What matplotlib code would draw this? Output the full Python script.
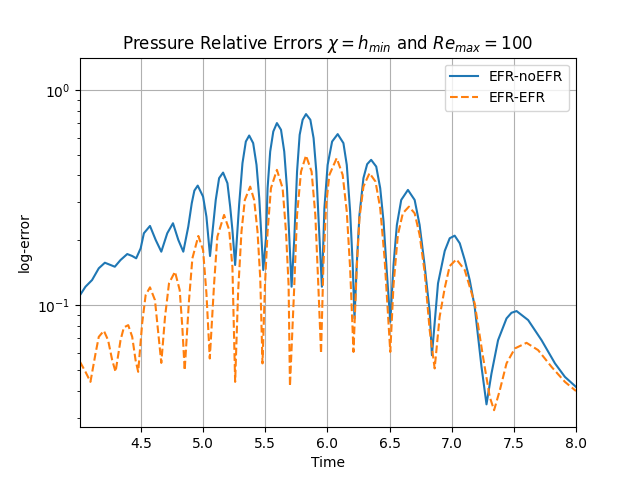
import numpy as np
import matplotlib
matplotlib.use("Agg")
import matplotlib.pyplot as plt

# values (peaks, troughs and points along each arch)
t_noefr = [4.010, 4.054, 4.107, 4.161, 4.210, 4.256, 4.290, 4.336, 4.390, 4.430,
           4.462, 4.498, 4.524, 4.573, 4.619, 4.664, 4.712, 4.758, 4.801, 4.841,
           4.881, 4.909, 4.930, 4.957, 5.000, 5.027, 5.056, 5.102, 5.129, 5.161,
           5.196, 5.218, 5.236, 5.258, 5.290, 5.317, 5.344, 5.371, 5.403, 5.430,
           5.452, 5.470, 5.484, 5.506, 5.519, 5.540, 5.565, 5.594, 5.627, 5.653,
           5.675, 5.694, 5.712, 5.734, 5.756, 5.777, 5.801, 5.828, 5.863, 5.889,
           5.911, 5.930, 5.956, 5.976, 6.002, 6.038, 6.083, 6.129, 6.156, 6.183,
           6.204, 6.218, 6.236, 6.258, 6.290, 6.320, 6.352, 6.393, 6.425, 6.452,
           6.478, 6.506, 6.532, 6.559, 6.594, 6.648, 6.702, 6.742, 6.782, 6.823,
           6.841, 6.890, 6.944, 6.984, 7.024, 7.065, 7.105, 7.145, 7.185, 7.240,
           7.280, 7.320, 7.373, 7.441, 7.481, 7.522, 7.615, 7.723, 7.831, 7.911,
           8.000]
err_noefr = [0.1112, 0.1217, 0.1307, 0.1482, 0.1573, 0.1535, 0.1507, 0.1619, 0.1726, 0.1690,
             0.1649, 0.1835, 0.2156, 0.2331, 0.2006, 0.1770, 0.2156, 0.2399, 0.2006, 0.1770,
             0.2313, 0.2972, 0.3400, 0.3588, 0.3190, 0.2575, 0.1690, 0.3078, 0.3885, 0.4124,
             0.3681, 0.2865, 0.2233, 0.1535, 0.2918, 0.4560, 0.5747, 0.6129, 0.5651, 0.4477,
             0.3135, 0.2043, 0.1455, 0.2043, 0.3490, 0.5164, 0.6398, 0.7001, 0.6516, 0.5164,
             0.3490, 0.2043, 0.1217, 0.2043, 0.4169, 0.6175, 0.7253, 0.7707, 0.7253, 0.5962,
             0.4169, 0.2440, 0.1217, 0.2817, 0.4477, 0.5747, 0.6222, 0.5651, 0.4477, 0.2716,
             0.1535, 0.0867, 0.1535, 0.2622, 0.3885, 0.4512, 0.4726, 0.4397, 0.3490, 0.2440,
             0.1429, 0.0836, 0.1535, 0.2355, 0.3078, 0.3426, 0.3078, 0.2355, 0.1535, 0.0931,
             0.0585, 0.1262, 0.1784, 0.2043, 0.2101, 0.1936, 0.1619, 0.1307, 0.0982, 0.0516,
             0.0346, 0.0481, 0.0687, 0.0867, 0.0921, 0.0938, 0.0852, 0.0687, 0.0536, 0.0464,
             0.0417]

t_efr = [4.010, 4.054, 4.094, 4.135, 4.161, 4.202, 4.236, 4.269, 4.296, 4.336,
         4.363, 4.398, 4.430, 4.457, 4.478, 4.510, 4.538, 4.573, 4.613, 4.640,
         4.664, 4.694, 4.726, 4.774, 4.812, 4.833, 4.852, 4.887, 4.914, 4.962,
         5.000, 5.027, 5.054, 5.089, 5.115, 5.169, 5.210, 5.236, 5.258, 5.282,
         5.309, 5.336, 5.379, 5.411, 5.438, 5.460, 5.478, 5.498, 5.519, 5.546,
         5.594, 5.640, 5.667, 5.688, 5.699, 5.734, 5.756, 5.788, 5.828, 5.873,
         5.903, 5.927, 5.949, 5.968, 5.990, 6.016, 6.075, 6.123, 6.156, 6.183,
         6.210, 6.236, 6.258, 6.290, 6.339, 6.387, 6.425, 6.460, 6.506, 6.532,
         6.567, 6.607, 6.656, 6.702, 6.742, 6.782, 6.823, 6.863, 6.903, 6.944,
         6.984, 7.038, 7.105, 7.185, 7.252, 7.306, 7.341, 7.387, 7.441, 7.508,
         7.602, 7.695, 7.804, 7.911, 8.000]
err_efr = [0.0545, 0.0490, 0.0440, 0.0596, 0.0712, 0.0760, 0.0687, 0.0555, 0.0490, 0.0687,
           0.0788, 0.0807, 0.0712, 0.0555, 0.0490, 0.0822, 0.1113, 0.1209, 0.1055, 0.0738,
           0.0539, 0.0882, 0.1262, 0.1429, 0.1174, 0.0793, 0.0498, 0.1055, 0.1649, 0.2094,
           0.1803, 0.1133, 0.0565, 0.1262, 0.2078, 0.2622, 0.2233, 0.1507, 0.0440, 0.1153,
           0.2193, 0.3078, 0.3549, 0.3078, 0.2193, 0.1331, 0.0536, 0.1239, 0.2193, 0.3490,
           0.4246, 0.3490, 0.2193, 0.1239, 0.0420, 0.1239, 0.2622, 0.4169, 0.4949, 0.4169,
           0.2622, 0.1239, 0.0596, 0.1535, 0.2918, 0.4024, 0.4813, 0.4024, 0.2716, 0.1482,
           0.0606, 0.1482, 0.2531, 0.3549, 0.4100, 0.3746, 0.2817, 0.1649, 0.0606, 0.1239,
           0.2116, 0.2670, 0.2865, 0.2670, 0.2116, 0.1429, 0.0765, 0.0508, 0.0882, 0.1200,
           0.1518, 0.1631, 0.1455, 0.1018, 0.0575, 0.0375, 0.0325, 0.0402, 0.0536, 0.0629,
           0.0668, 0.0618, 0.0516, 0.0440, 0.0399]

fig, ax = plt.subplots(figsize=(6.4, 4.8), dpi=100)

ax.semilogy(t_noefr, err_noefr, color="#1f77b4", lw=1.5, label="EFR-noEFR")
ax.semilogy(t_efr, err_efr, color="#ff7f0e", lw=1.5, ls="--", label="EFR-EFR")

ax.set_xlim(t_noefr[0], t_noefr[-1])
ax.set_ylim(0.0271, 1.41)
ax.set_xlabel("Time")
ax.set_ylabel("log-error")
ax.set_title(r"Pressure Relative Errors $\chi = h_{min}$ and $Re_{max} = 100$")
ax.grid(True)
ax.legend(loc="upper right")

fig.savefig("out.png", dpi=100)
